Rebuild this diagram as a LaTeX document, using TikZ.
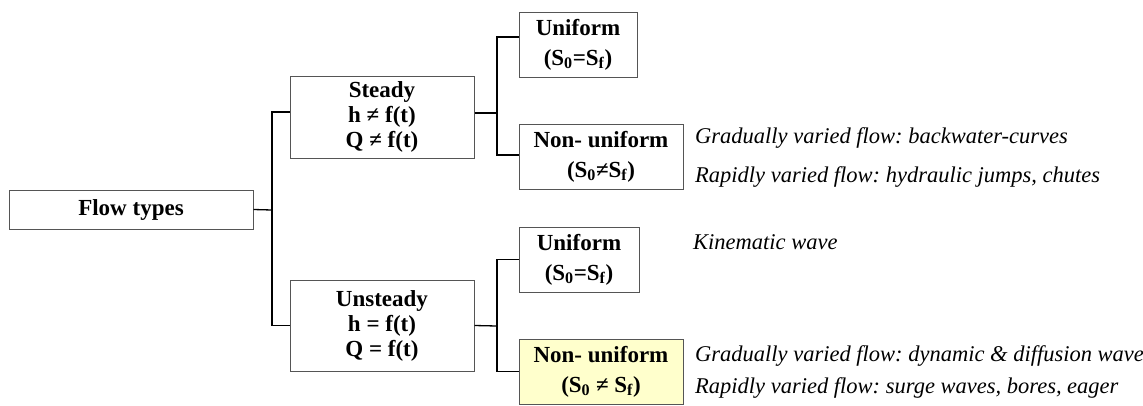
\documentclass[tikz,border=0pt]{standalone}
\usepackage{fontspec}
\setmainfont{Liberation Serif}
\definecolor{boxgray}{HTML}{555555}
\definecolor{paleyellow}{HTML}{FFFFCC}
\frenchspacing
\begin{document}
\begin{tikzpicture}[x=1pt,y=-1pt,
  box/.style={draw=boxgray, line width=1pt, inner sep=0pt, align=center,
    font=\bfseries\fontsize{23}{25}\selectfont},
  conn/.style={line width=1.3pt, black},
  note/.style={anchor=base west, inner sep=0pt,
    font=\itshape\fontsize{22.5}{26}\selectfont}]
\useasboundingbox (0,0) rectangle (1143,405);
\node[box, minimum width=244pt, minimum height=39pt] (flow) at (131,209.5) {Flow types};
\node[box, minimum width=184pt, minimum height=82pt] (steady) at (382,117)
  {Steady\\h ≠ f(t)\\Q ≠ f(t)};
\node[box, minimum width=184pt, minimum height=91pt] (unsteady) at (382,325.5)
  {Unsteady\\h = f(t)\\Q = f(t)};
\node[box, minimum width=118pt, minimum height=65pt] (u1) at (578,44.5)
  {Uniform\\[5pt](S\textsubscript{0}=S\textsubscript{f})};
\node[box, minimum width=164pt, minimum height=65pt] (n1) at (601,156.5)
  {Non- uniform\\[5pt](S\textsubscript{0}≠S\textsubscript{f})};
\node[box, minimum width=120pt, minimum height=65pt] (u2) at (579,259.5)
  {Uniform\\[5pt](S\textsubscript{0}=S\textsubscript{f})};
\node[box, fill=paleyellow, minimum width=164pt, minimum height=65pt] (n2) at (601,371.5)
  {Non- uniform\\[5pt](S\textsubscript{0} ≠ S\textsubscript{f})};
\coordinate (j1) at (272,210);
\coordinate (j2) at (497,113);
\coordinate (j3) at (497,326);
\draw[conn] (flow.east) -- (j1);
\draw[conn] ([yshift=5pt]steady.west) -| (j1) |- (unsteady.west);
\draw[conn] ([yshift=4pt]steady.east) -- (j2);
\draw[conn] ([yshift=7.5pt]u1.west) -| (j2) |- ([yshift=1.5pt]n1.west);
\draw[conn] (unsteady.east) -- (j3);
\draw[conn] (u2.west) -| (j3) |- (n2.west);
\node[note] (t1) at (695,143) {Gradually varied flow: backwater-curves};
\node[note] (t2) at (695,182) {Rapidly varied flow: hydraulic jumps, chutes};
\node[note] (t3) at (693,249) {Kinematic wave};
\node[note] (t4) at (695,361) {Gradually varied flow: dynamic \& diffusion wave};
\node[note] (t5) at (695,393) {Rapidly varied flow: surge waves, bores, eager};
\end{tikzpicture}
\end{document}
